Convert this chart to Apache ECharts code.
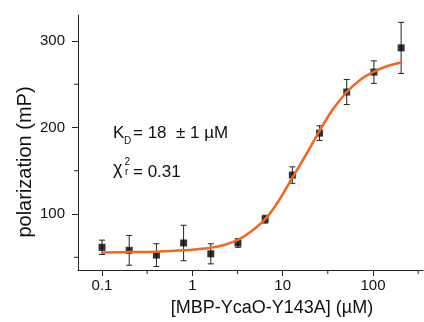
<!DOCTYPE html>
<html><head><meta charset="utf-8">
<script src="https://cdn.jsdelivr.net/npm/echarts@6/dist/echarts.min.js"></script>
<style>html,body{margin:0;padding:0;background:#fff}#c{width:424px;height:322px}</style>
</head><body><div id="c"></div>
<script>
// measured data (concentration in µM, polarization in mP)
const concentrations = [0.1, 0.2, 0.4, 0.8, 1.6, 3.2, 6.4, 12.8, 25.6, 51.2, 102.4, 204.8];
const polarization = [61.5, 58, 52.5, 66.5, 54, 66.5, 94, 145, 193.5, 241, 264, 292];
const errors = [8.3, 17.2, 13.2, 20.5, 11.6, 5, 4.5, 9.5, 8.5, 14.5, 13, 29.5];
// fitted curve
const fitX = [0.1, 0.2, 0.4, 0.8, 1.6, 2.3, 3.2, 4.5, 6.4, 9, 12.8, 18, 25.6, 36, 51.2, 72, 102.4, 145, 204.8];
const fitY = [55.5, 56, 56.5, 58, 61, 64.5, 70, 80, 94, 115, 142, 168, 196, 221, 241, 255, 264.5, 271, 275];
// tick values
const xMajorTicks = [0.1, 1, 10, 100];
const xMinorTicks = [0.316, 3.16, 31.6, 316];
const yMajorTicks = [100, 200, 300];
const yMinorTicks = [50, 150, 250];
const xLabels = ['0.1', '1', '10', '100'];

const FONT = '"Liberation Sans", Arial, sans-serif';
const AX = '#222';
const xMin = 0.0542, xMax = 357.7, yMin = 35.3, yMax = 330;

const chart = echarts.init(document.getElementById('c'), null, {renderer: 'canvas'});
const tickStyle = {stroke: AX, lineWidth: 1};
chart.setOption({
  animation: false,
  backgroundColor: '#fff',
  grid: {left: 78, right: 1, top: 15, bottom: 52, containLabel: false, outerBoundsMode: 'none'},
  xAxis: {
    type: 'log', logBase: 10, min: xMin, max: xMax, splitLine: {show: false},
    axisLine: {show: true, onZero: false, lineStyle: {color: AX, width: 1}},
    axisTick: {show: true, length: 6, inside: false, customValues: xMajorTicks, lineStyle: {color: AX}},
    axisLabel: {show: true, customValues: xMajorTicks, margin: 8, color: '#111', fontSize: 15, fontFamily: FONT,
      formatter: v => { const i = xMajorTicks.findIndex(t => Math.abs(t - v) / t < 1e-6); return i >= 0 ? xLabels[i] : ''; }}
  },
  yAxis: {
    type: 'value', min: yMin, max: yMax, splitLine: {show: false},
    axisLine: {show: true, onZero: false, lineStyle: {color: AX, width: 1}},
    axisTick: {show: true, length: 6, inside: false, customValues: yMajorTicks, lineStyle: {color: AX}},
    axisLabel: {show: true, customValues: yMajorTicks, margin: 13, color: '#111', fontSize: 15, fontFamily: FONT}
  },
  graphic: [
    {type: 'text', x: 272, y: 308, style: {text: '[MBP-YcaO-Y143A] (µM)', fill: '#111', fontSize: 18, fontFamily: FONT, align: 'center', verticalAlign: 'middle'}},
    {type: 'text', x: 25.5, y: 162, rotation: Math.PI / 2, style: {text: 'polarization (mP)', fill: '#111', fontSize: 20, fontFamily: FONT, align: 'center', verticalAlign: 'middle'}},
    {type: 'text', x: 113, y: 133, style: {text: 'K', fill: '#111', fontSize: 17, fontFamily: FONT, align: 'left', verticalAlign: 'middle'}},
    {type: 'text', x: 124, y: 141.5, style: {text: 'D', fill: '#111', fontSize: 10, fontFamily: FONT, align: 'left', verticalAlign: 'middle'}},
    {type: 'text', x: 133, y: 133, style: {text: '= 18  ± 1 µM', fill: '#111', fontSize: 17, fontFamily: FONT, align: 'left', verticalAlign: 'middle'}},
    {type: 'text', x: 113, y: 169, style: {text: 'χ', fill: '#111', fontSize: 18, fontFamily: FONT, align: 'left', verticalAlign: 'middle'}},
    {type: 'text', x: 124.5, y: 162, style: {text: '2', fill: '#111', fontSize: 10, fontFamily: FONT, align: 'left', verticalAlign: 'middle'}},
    {type: 'text', x: 125, y: 172, style: {text: 'r', fill: '#111', fontSize: 10, fontFamily: FONT, align: 'left', verticalAlign: 'middle'}},
    {type: 'text', x: 133, y: 172, style: {text: '= 0.31', fill: '#111', fontSize: 17, fontFamily: FONT, align: 'left', verticalAlign: 'middle'}}
  ],
  series: [
    { // minor ticks on the x axis
      type: 'custom', clip: false, silent: true, z: 1,
      data: xMinorTicks.map(v => [v, yMin]),
      encode: {x: 0, y: 1},
      renderItem: (params, api) => {
        const p = api.coord([api.value(0), yMin]);
        return {type: 'line', shape: {x1: p[0], y1: p[1], x2: p[0], y2: p[1] + 4}, style: tickStyle};
      }
    },
    { // minor ticks on the y axis
      type: 'custom', clip: false, silent: true, z: 1,
      data: yMinorTicks.map(v => [xMin, v]),
      encode: {x: 0, y: 1},
      renderItem: (params, api) => {
        const p = api.coord([xMin, api.value(1)]);
        return {type: 'line', shape: {x1: p[0], y1: p[1], x2: p[0] - 4, y2: p[1]}, style: tickStyle};
      }
    },
    {
      type: 'custom', z: 2,
      data: concentrations.map((c, i) => [c, polarization[i] - errors[i], polarization[i] + errors[i]]),
      encode: {x: 0, y: [1, 2]},
      renderItem: (params, api) => {
        const x = api.value(0);
        const lo = api.coord([x, api.value(1)]);
        const hi = api.coord([x, api.value(2)]);
        const w = 3, st = {stroke: '#222', lineWidth: 1};
        return {type: 'group', children: [
          {type: 'line', shape: {x1: lo[0], y1: lo[1], x2: hi[0], y2: hi[1]}, style: st},
          {type: 'line', shape: {x1: lo[0] - w, y1: lo[1], x2: lo[0] + w, y2: lo[1]}, style: st},
          {type: 'line', shape: {x1: hi[0] - w, y1: hi[1], x2: hi[0] + w, y2: hi[1]}, style: st}
        ]};
      }
    },
    {
      type: 'scatter', z: 3,
      symbol: 'rect', symbolSize: 7, itemStyle: {color: '#000'},
      data: concentrations.map((c, i) => [c, polarization[i]])
    },
    {
      type: 'line', z: 4,
      smooth: 0.4, showSymbol: false, symbol: 'none',
      lineStyle: {color: '#f4661f', width: 2.5},
      data: fitX.map((x, i) => [x, fitY[i]])
    }
  ]
});
</script>
</body></html>
